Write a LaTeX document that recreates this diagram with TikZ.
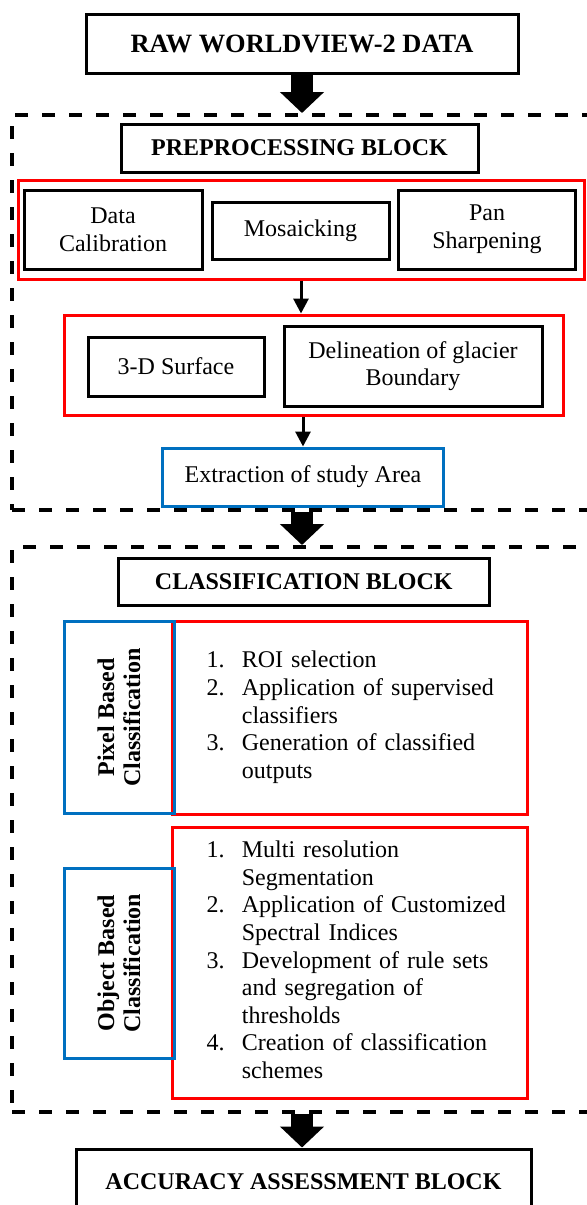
\documentclass[tikz,border=0pt]{standalone}
\usepackage{fontspec}
\setmainfont{Liberation Serif}
\usepackage{xcolor}
\usetikzlibrary{arrows.meta, positioning}
\definecolor{boxred}{RGB}{255,0,0}
\definecolor{boxblue}{RGB}{0,112,192}

\begin{document}
\begin{tikzpicture}[x=0.5pt, y=-0.5pt,
  blackbox/.style={draw, line width=1.5pt, align=center, inner sep=0pt,
                   font=\fontsize{12}{13.8}\selectfont},
  headbox/.style={blackbox, font=\fontsize{12}{13.8}\selectfont\bfseries},
  redbox/.style={draw=boxred, line width=1.5pt, inner sep=0pt},
  bluebox/.style={draw=boxblue, line width=1.5pt, align=center, inner sep=0pt,
                  font=\fontsize{12}{13.8}\selectfont},
  sidelab/.style={bluebox, rotate=90, minimum width=96pt, minimum height=55pt,
                  font=\fontsize{12}{13}\selectfont\bfseries},
  itemlist/.style={redbox, align=left, inner xsep=17pt, text width=143.2pt,
                   minimum width=177.2pt, font=\fontsize{12}{13.8}\selectfont},
  blockframe/.style={draw, dash pattern=on 6.5pt off 7pt, line width=2pt,
                     inner sep=0pt, minimum width=290pt},
  bigarr/.style={line width=11pt, -{Triangle[width=21.5pt,length=10.5pt]}},
  arr/.style={line width=1.5pt, -{Triangle[width=7.5pt,length=7.5pt]}}
]
\useasboundingbox (0,0) rectangle (586,1205);

%% Dashed blocks
\node[blockframe, minimum height=197.5pt] (preblock)   at (302, 312.5) {};
\node[blockframe, minimum height=282.5pt] (classblock) at (302, 829.5) {};

%% Input
\node[headbox, minimum width=216pt, minimum height=29.5pt,
      font=\fontsize{13.2}{15}\selectfont\bfseries] (raw) at (302, 43.5) {RAW WORLDVIEW-2 DATA};

%% Preprocessing block
\node[headbox, minimum width=178.5pt, minimum height=24pt] (pretitle) at (299.5, 148) {PREPROCESSING BLOCK};
\node[redbox, minimum width=283pt, minimum height=49.5pt] (stepsa) at (301, 229.5) {};
\node[blackbox, minimum width=89pt, minimum height=39.5pt] (calib)  at (113, 229.5) {Data\\Calibration};
\node[blackbox, minimum width=88.5pt, minimum height=28.5pt] (mosaic) at (300.5, 230.5) {Mosaicking};
\node[blackbox, minimum width=88.75pt, minimum height=39.5pt] (pansharp) at (487, 229.5) {Pan\\Sharpening};

\node[redbox, minimum width=249.75pt, minimum height=50.3pt] (stepsb) at (313.75, 365.3) {};
\node[blackbox, minimum width=88pt, minimum height=29.5pt] (surf)  at (176, 366.5) {3-D Surface};
\node[blackbox, minimum width=129pt, minimum height=40pt]  (delin) at (413, 366) {Delineation of glacier\\Boundary};

\node[bluebox, minimum width=140.5pt, minimum height=29pt] (extract) at (303, 477) {Extraction of study Area};

%% Classification block
\node[headbox, minimum width=185.75pt, minimum height=23.5pt] (classtitle) at (303.75, 581.5) {CLASSIFICATION BLOCK};

\node[itemlist, minimum height=96.5pt] (pixlist) at (349.8, 717.5) {%
  \begin{tabular}{@{}p{17.65pt}@{}l@{}}
  1. & ROI selection\\
  2. & Application of supervised\\
     & classifiers\\
  3. & Generation of classified\\
     & outputs
  \end{tabular}};
\node[sidelab] (pixlab) at (119, 717.5) {Pixel Based\\Classification};

\node[itemlist, minimum height=135.5pt] (objlist) at (349.8, 962.5) {%
  \begin{tabular}{@{}p{17.65pt}@{}l@{}}
  1. & Multi resolution\\
     & Segmentation\\
  2. & Application of Customized\\
     & Spectral Indices\\
  3. & Development of rule sets\\
     & and segregation of\\
     & thresholds\\
  4. & Creation of classification\\
     & schemes
  \end{tabular}};
\node[sidelab, minimum width=95pt] (objlab) at (119, 963) {Object Based\\Classification};

%% Output
\node[headbox, minimum width=227.5pt, minimum height=33pt] (accuracy) at (303.5, 1182) {ACCURACY ASSESSMENT BLOCK};

%% Arrows
\draw[bigarr] (raw.south) -- (preblock.north);
\draw[bigarr] (preblock.south) -- (classblock.north);
\draw[bigarr] (classblock.south) -- (classblock.south |- accuracy.north);
\draw[arr] (stepsa.south) -- (stepsa.south |- stepsb.north);
\draw[arr] (extract.north |- stepsb.south) -- (extract.north);

\end{tikzpicture}
\end{document}
